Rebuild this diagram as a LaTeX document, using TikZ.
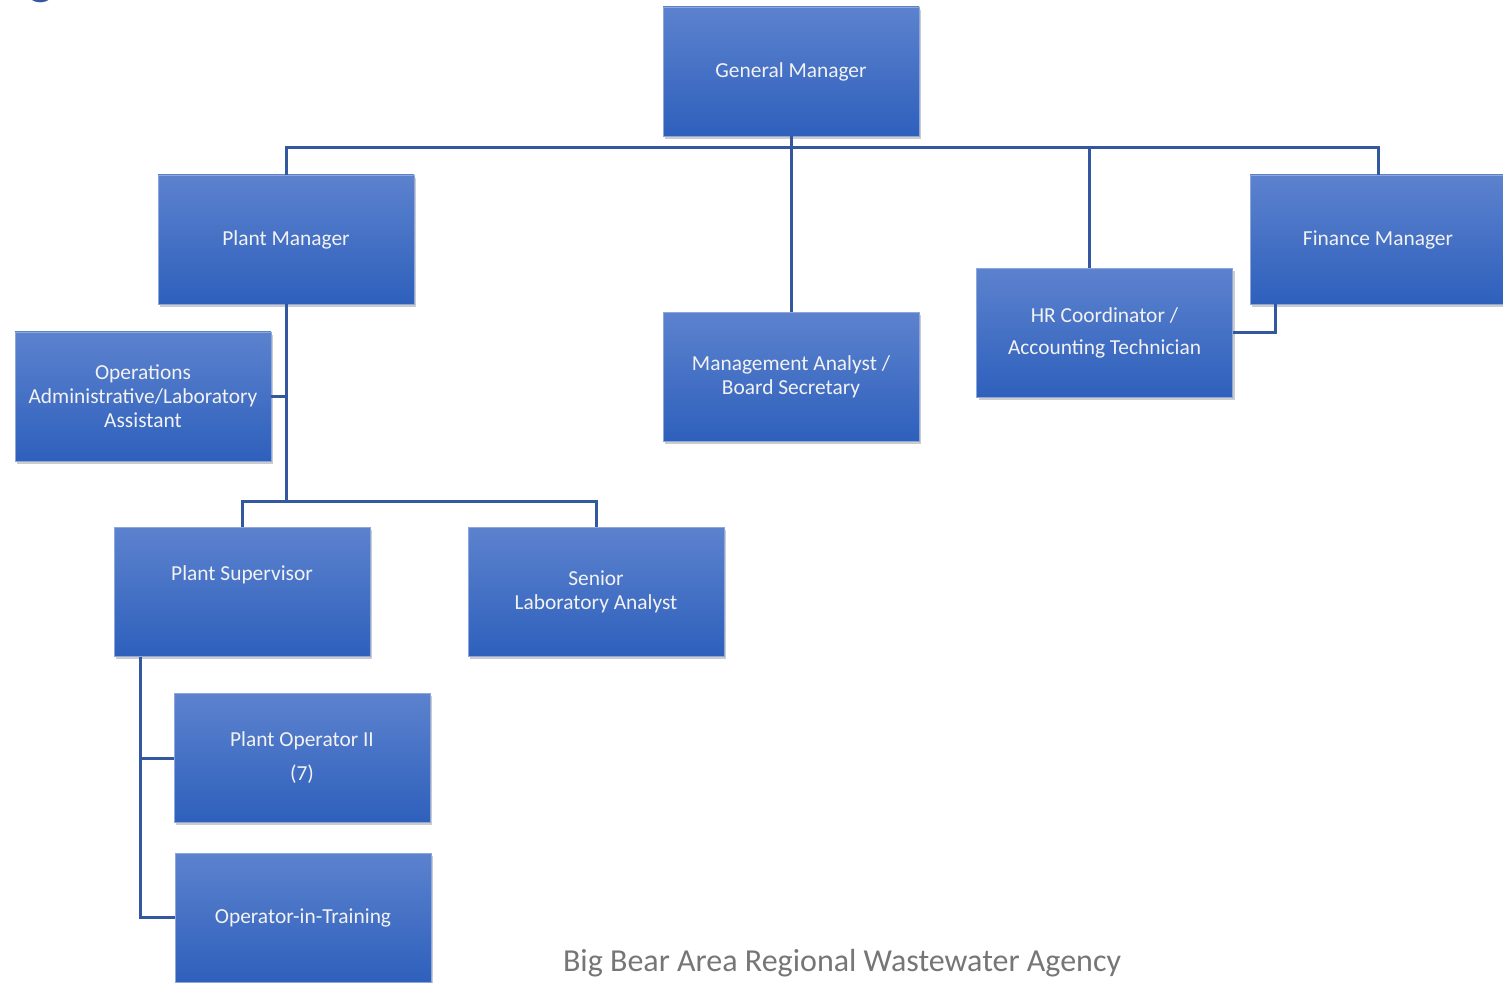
\documentclass[tikz,border=0pt]{standalone}
\usepackage{fontspec}
\setmainfont{Carlito}
\usetikzlibrary{shadows,positioning}
\definecolor{boxtop}{RGB}{92,130,206}
\definecolor{boxbottom}{RGB}{46,96,188}
\definecolor{linkblue}{RGB}{52,88,160}
\definecolor{footgray}{RGB}{118,118,118}
\tikzset{
  orgbox/.style={rectangle, top color=boxtop, bottom color=boxbottom,
    draw=boxtop!70!white, line width=0.3pt,
    minimum width=128pt, minimum height=64.5pt, inner sep=2pt,
    text=white!95!black, align=center, font=\fontsize{10.7}{12}\selectfont,
    drop shadow={opacity=0.4, shadow xshift=1.2pt, shadow yshift=-1.4pt}},
  link/.style={draw=linkblue, line width=1.5pt},
}

\begin{document}
\begin{tikzpicture}[x=0.5pt, y=-0.5pt]
  \useasboundingbox (0,0) rectangle (1503,983);

  % Title fragment cut by the page edge
  \begin{scope}
    \clip (0,0) rectangle (1503,983);
    \node[font=\fontsize{27}{30}\selectfont, text=linkblue, anchor=base, inner sep=0pt] (titleg) at (41,-6) {g};
  \end{scope}

  % Junction points
  \coordinate (bus) at (791,148);
  \coordinate (pmbus) at (286,501);

  % Boxes
  \node[orgbox] (gm)  at (791,71.5)   {General Manager};
  \node[orgbox] (pm)  at (286,239.5)  {Plant Manager};
  \node[orgbox] (ma)  at (791,377)    {Management Analyst /\\Board Secretary};
  \node[orgbox] (hr)  at (1104.5,333) {HR Coordinator /\\[4pt]Accounting Technician};
  \node[orgbox] (fm)  at (1378,239.5) {Finance Manager};
  \node[orgbox] (ops) at (143,396.5)  {Operations\\Administrative/Laboratory\\Assistant};
  \node[orgbox] (ps)  at (242,592)    {Plant Supervisor\\[7pt]\mbox{}};
  \node[orgbox] (sla) at (596,592)    {Senior\\Laboratory Analyst};
  \node[orgbox] (po)  at (302,758)    {Plant Operator II\\[5pt](7)};
  \node[orgbox] (oit) at (303,917.5)  {Operator-in-Training};

  % Top level
  \draw[link] (pm.north) |- (bus) -| (fm.north);
  \draw[link] (gm.south) -- (ma.north);
  \draw[link] ([xshift=-7.75pt]hr.north) |- (bus);
  \draw[link] ([xshift=-51.5pt]fm.south) |- (hr.east);

  % Plant branch
  \draw[link] (pm.south) -- (pmbus);
  \draw[link] (ops.east) -- (ops.east -| pm.south);
  \draw[link] (ps.north) |- (pmbus) -| (sla.north);

  % Operators
  \draw[link] ([xshift=-51pt]ps.south) |- (oit.west);
  \draw[link] (po.west) -- ++(-34,0);

  % Footer
  \node[font=\fontsize{16}{18}\selectfont, text=footgray] (agency) at (842,963) {Big Bear Area Regional Wastewater Agency};
\end{tikzpicture}
\end{document}
